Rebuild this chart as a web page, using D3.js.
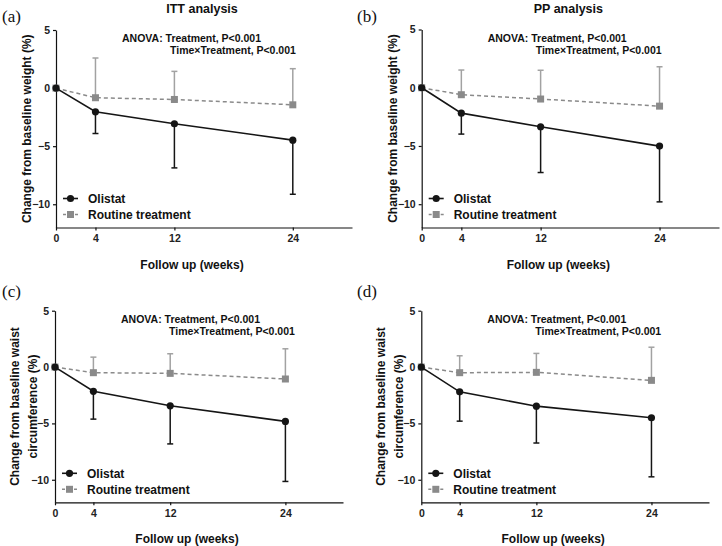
<!DOCTYPE html>
<html>
<head>
<meta charset="utf-8">
<script src="https://cdn.jsdelivr.net/npm/d3@7"></script>
<style>
  body { margin: 0; background: #fff; }
  svg { display: block; font-family: "Liberation Sans", Arial, sans-serif; }
  .domain, .tick line { stroke: #111; stroke-width: 1.2; }
</style>
</head>
<body>
<div id="chart"></div>
<script>
// data (mean, and one-sided SD whisker)
var weeks = [0, 4, 12, 24];
var xTicks = [0, 4, 12, 24];
var yTicks = [5, 0, -5, -10];

var panelLetters = ["(a)", "(b)", "(c)", "(d)"];
var panelTitles = ["ITT analysis", "PP analysis", "", ""];
var yTitles = [
	["Change from baseline weight (%)"],
	["Change from baseline weight (%)"],
	["Change from baseline waist", "circumference (%)"],
	["Change from baseline waist", "circumference (%)"]
];
var seriesNames = ["Olistat", "Routine treatment"];
var anovaLines = ["ANOVA: Treatment, P<0.001", "Time\u00d7Treatment, P<0.001"];

var olistatMean = [
	[0, -2.04, -3.07, -4.48],
	[0, -2.18, -3.35, -5.01],
	[0, -2.15, -3.44, -4.82],
	[0, -2.20, -3.47, -4.50]
];
var olistatLow = [
	[0, -3.91, -6.87, -9.14],
	[0, -3.98, -7.28, -9.80],
	[0, -4.62, -6.82, -10.15],
	[0, -4.80, -6.74, -9.74]
];
var routineMean = [
	[0, -0.83, -0.98, -1.44],
	[0, -0.60, -0.97, -1.58],
	[0, -0.50, -0.56, -1.06],
	[0, -0.50, -0.47, -1.18]
];
var routineHigh = [
	[0, 2.59, 1.44, 1.67],
	[0, 1.52, 1.50, 1.80],
	[0, 0.88, 1.18, 1.62],
	[0, 1.00, 1.21, 1.76]
];

var W = 722, H = 546;
var black = "#151515", gray = "#8a8a8a", grayBar = "#a2a2a2";
var sans = "'Liberation Sans', Arial, Helvetica, sans-serif";

// plot boxes: left, right, top, bottom (pixel positions of each panel's axes)
var boxes = [
	{left: 56, right: 352, top: 30, bottom: 227.5, lx: 2, ly: 22},
	{left: 421.7, right: 719, top: 29.5, bottom: 227.5, lx: 357, ly: 22},
	{left: 55, right: 343, top: 310.7, bottom: 502.3, lx: 2, ly: 297},
	{left: 421.3, right: 709, top: 310.7, bottom: 502.3, lx: 357, ly: 297}
];

var svg = d3.select("#chart").append("svg")
	.attr("width", W)
	.attr("height", H);

svg.append("rect").attr("width", W).attr("height", H).attr("fill", "#fff");

boxes.forEach(function(b, i){
	drawPanel(i, b);
});

function styleTicks(axisG){
	axisG.attr("font-family", sans);
	axisG.selectAll(".tick text")
		.attr("font-family", sans)
		.attr("font-size", 10.5)
		.attr("font-weight", "bold")
		.attr("fill", "#222");
}

function drawPanel(i, b){
	var g = svg.append("g");

	var x = d3.scaleLinear().domain([0, 30]).range([b.left, b.right]);
	var y = d3.scaleLinear().domain([-12, 5]).range([b.bottom, b.top]);

	// panel letter
	g.append("text")
		.attr("x", b.lx).attr("y", b.ly)
		.attr("font-family", "'Liberation Serif', 'Times New Roman', serif")
		.attr("font-size", 17)
		.attr("fill", "#111")
		.text(panelLetters[i]);

	// title
	if(panelTitles[i] != ""){
		g.append("text")
			.attr("x", (b.left + b.right) / 2 - 2)
			.attr("y", 13)
			.attr("text-anchor", "middle")
			.attr("font-size", 12.5)
			.attr("font-weight", "bold")
			.attr("fill", "#111")
			.text(panelTitles[i]);
	}

	// axes
	var xg = g.append("g")
		.attr("transform", "translate(0," + b.bottom + ")")
		.call(d3.axisBottom(x).tickValues(xTicks).tickSize(3).tickPadding(4).tickSizeOuter(0));
	styleTicks(xg);

	var yg = g.append("g")
		.attr("transform", "translate(" + b.left + ",0)")
		.call(d3.axisLeft(y).tickValues(yTicks).tickSize(3).tickPadding(3).tickSizeOuter(0));
	styleTicks(yg);

	// x title
	g.append("text")
		.attr("x", (b.left + b.right) / 2 - 12)
		.attr("y", b.bottom + 41)
		.attr("text-anchor", "middle")
		.attr("font-size", 12)
		.attr("font-weight", "bold")
		.attr("fill", "#111")
		.text("Follow up (weeks)");

	// y title
	var cy = (b.top + b.bottom) / 2;
	var lines = yTitles[i];
	var base = lines.length > 1 ? b.left - 18 : b.left - 25;
	var yt = g.append("text")
		.attr("transform", "translate(" + base + "," + cy + ") rotate(-90)")
		.attr("text-anchor", "middle")
		.attr("font-size", 12)
		.attr("font-weight", "bold")
		.attr("fill", "#111");
	lines.forEach(function(t, k){
		yt.append("tspan")
			.attr("x", 0)
			.attr("y", (k - (lines.length - 1)) * 18)
			.text(t);
	});

	// ANOVA note
	g.append("text")
		.attr("x", b.left + 66).attr("y", b.top + 12)
		.attr("font-size", 10.5).attr("font-weight", "bold").attr("fill", "#111")
		.text(anovaLines[0]);
	g.append("text")
		.attr("x", b.left + 114).attr("y", b.top + 24)
		.attr("font-size", 10.5).attr("font-weight", "bold").attr("fill", "#111")
		.text(anovaLines[1]);

	var olData = weeks.map(function(w, k){ return {w: w, m: olistatMean[i][k], e: olistatLow[i][k]}; });
	var rtData = weeks.map(function(w, k){ return {w: w, m: routineMean[i][k], e: routineHigh[i][k]}; });

	var line = d3.line()
		.x(function(d){ return x(d.w); })
		.y(function(d){ return y(d.m); });

	// routine treatment: error bars up, dashed line, squares
	var rtBars = rtData.filter(function(d){ return d.w > 0; });
	g.selectAll(".rtbar").data(rtBars).enter().append("line")
		.attr("x1", function(d){ return x(d.w); }).attr("x2", function(d){ return x(d.w); })
		.attr("y1", function(d){ return y(d.m); }).attr("y2", function(d){ return y(d.e); })
		.attr("stroke", grayBar).attr("stroke-width", 1.5);
	g.selectAll(".rtcap").data(rtBars).enter().append("line")
		.attr("x1", function(d){ return x(d.w) - 3; }).attr("x2", function(d){ return x(d.w) + 3; })
		.attr("y1", function(d){ return y(d.e); }).attr("y2", function(d){ return y(d.e); })
		.attr("stroke", grayBar).attr("stroke-width", 1.5);

	g.append("path").datum(rtData)
		.attr("d", line)
		.attr("fill", "none")
		.attr("stroke", gray)
		.attr("stroke-width", 1.5)
		.attr("stroke-dasharray", "4,3");

	g.selectAll(".rtpt").data(rtData).enter().append("rect")
		.attr("x", function(d){ return x(d.w) - 3.5; })
		.attr("y", function(d){ return y(d.m) - 3.5; })
		.attr("width", 7).attr("height", 7)
		.attr("fill", gray);

	// olistat: error bars down, solid line, circles
	var olBars = olData.filter(function(d){ return d.w > 0; });
	g.selectAll(".olbar").data(olBars).enter().append("line")
		.attr("x1", function(d){ return x(d.w); }).attr("x2", function(d){ return x(d.w); })
		.attr("y1", function(d){ return y(d.m); }).attr("y2", function(d){ return y(d.e); })
		.attr("stroke", black).attr("stroke-width", 1.5);
	g.selectAll(".olcap").data(olBars).enter().append("line")
		.attr("x1", function(d){ return x(d.w) - 3; }).attr("x2", function(d){ return x(d.w) + 3; })
		.attr("y1", function(d){ return y(d.e); }).attr("y2", function(d){ return y(d.e); })
		.attr("stroke", black).attr("stroke-width", 1.5);

	g.append("path").datum(olData)
		.attr("d", line)
		.attr("fill", "none")
		.attr("stroke", black)
		.attr("stroke-width", 1.6);

	g.selectAll(".olpt").data(olData).enter().append("circle")
		.attr("cx", function(d){ return x(d.w); })
		.attr("cy", function(d){ return y(d.m); })
		.attr("r", 3.6)
		.attr("fill", black);

	// legend
	var leg = g.append("g").attr("transform", "translate(" + b.left + "," + (b.bottom - 29) + ")");
	leg.append("line").attr("x1", 7).attr("x2", 22).attr("y1", 0).attr("y2", 0)
		.attr("stroke", black).attr("stroke-width", 1.6);
	leg.append("circle").attr("cx", 14.5).attr("cy", 0).attr("r", 3.6).attr("fill", black);
	leg.append("text").attr("x", 32).attr("y", 4.5)
		.attr("font-size", 12).attr("font-weight", "bold").attr("fill", "#111")
		.text(seriesNames[0]);

	leg.append("line").attr("x1", 7).attr("x2", 22).attr("y1", 16).attr("y2", 16)
		.attr("stroke", gray).attr("stroke-width", 1.5).attr("stroke-dasharray", "3,3");
	leg.append("rect").attr("x", 11).attr("y", 12.5).attr("width", 7).attr("height", 7).attr("fill", gray);
	leg.append("text").attr("x", 32).attr("y", 20.5)
		.attr("font-size", 12).attr("font-weight", "bold").attr("fill", "#111")
		.text(seriesNames[1]);
}
</script>
</body>
</html>
